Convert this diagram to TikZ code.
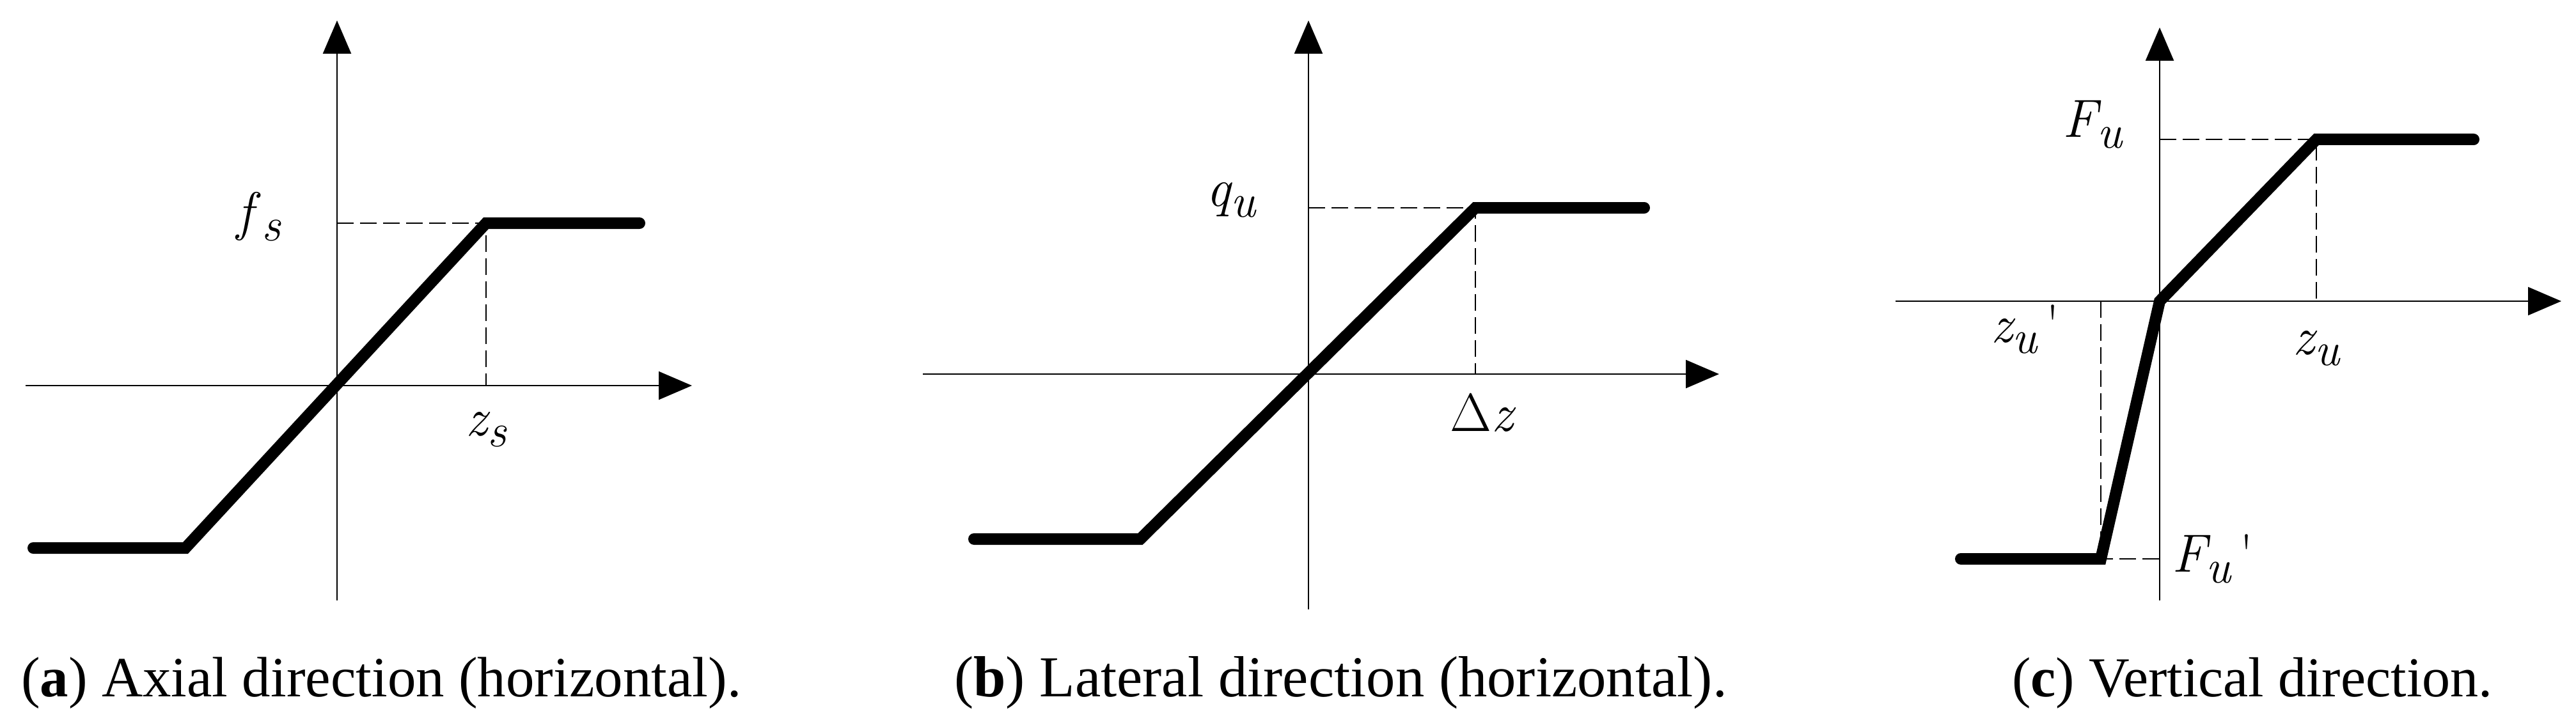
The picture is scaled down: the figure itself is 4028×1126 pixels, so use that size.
\documentclass[tikz,border=0pt]{standalone}
\usepackage{fontspec}
\setmainfont{Liberation Serif}
\newfontfamily\labf{Latin Modern Roman}
\usetikzlibrary{arrows.meta}
\tikzset{
  ax/.style={line width=2.5pt,-{Triangle[length=52pt,width=44pt]}},
  axp/.style={line width=2.5pt},
  curve/.style={line width=18pt,line cap=round,line join=miter},
  dsh/.style={line width=2.2pt,dash pattern=on 26pt off 10pt},
  lab/.style={font=\labf\fontsize{84}{90}\selectfont\itshape,inner sep=0pt},
  captxt/.style={inner sep=0pt,anchor=west}
}
\newcommand{\sbs}[1]{\raisebox{-0.2em}{\fontsize{74}{80}\selectfont #1}}
\begin{document}
\begin{tikzpicture}[x=1pt,y=-1pt]
\useasboundingbox (0,0) rectangle (4028,1126);
% panel a
\coordinate (aO) at (527,603);
\coordinate (aT) at (527,32); \coordinate (aB) at (527,939);
\coordinate (aL) at (40,603); \coordinate (aR) at (1082,603);
\draw[axp] (aB) -- (aO);
\draw[ax] (aO) -- (aT);
\draw[ax] (aL) -- (aR);
\coordinate (a1) at (52,857); \coordinate (a2) at (290,857);
\coordinate (a3) at (760,349); \coordinate (a4) at (1000,349);
\coordinate (ay) at (527,349); \coordinate (ax) at (760,603);
\draw[dsh] (ay) -- (a3) -- (ax);
\draw[curve] (a1) -- (a2) -- (a3) -- (a4);
\node[lab] (fs) at (405,339) {f\,\sbs{s}};
\node[lab] (zs) at (760,672) {z\sbs{s}};
\node[captxt] (capa) at (33,1068) {\resizebox{1125pt}{!}{(\textbf{a}) Axial direction (horizontal).}};
% panel b
\coordinate (bO) at (2046,585);
\coordinate (bT) at (2046,32); \coordinate (bB) at (2046,953);
\coordinate (bL) at (1443,585); \coordinate (bR) at (2688,585);
\draw[axp] (bB) -- (bO);
\draw[ax] (bO) -- (bT);
\draw[ax] (bL) -- (bR);
\coordinate (b1) at (1523,843); \coordinate (b2) at (1783,843);
\coordinate (b3) at (2307,325); \coordinate (b4) at (2571,325);
\coordinate (by) at (2046,325); \coordinate (bx) at (2307,585);
\draw[dsh] (by) -- (b3) -- (bx);
\draw[curve] (b1) -- (b2) -- (b3) -- (b4);
\node[lab] (qu) at (1925,313) {q\sbs{u}};
\node[lab] (dz) at (2317,645) {{\upshape\char"0394}z};
\node[captxt] (capb) at (1492,1068) {\resizebox{1208pt}{!}{(\textbf{b}) Lateral direction (horizontal).}};
% panel c
\coordinate (cO) at (3377,471);
\coordinate (cT) at (3377,43); \coordinate (cB) at (3377,939);
\coordinate (cL) at (2964,471); \coordinate (cR) at (4005,471);
\draw[axp] (cB) -- (cO);
\draw[ax] (cO) -- (cT);
\draw[ax] (cL) -- (cR);
\coordinate (c1) at (3066,874); \coordinate (c2) at (3285,874);
\coordinate (c4) at (3622,218); \coordinate (c5) at (3868,218);
\coordinate (cy) at (3377,218); \coordinate (cx) at (3622,471);
\coordinate (cx2) at (3285,471); \coordinate (cy2) at (3377,874);
\draw[dsh] (cy) -- (c4) -- (cx);
\draw[dsh] (cx2) -- (c2) -- (cy2);
\draw[curve] (c1) -- (c2) -- (cO) -- (c4) -- (c5);
\node[lab] (Fu) at (3272,195) {F\sbs{u}};
\node[lab] (zup) at (3167,515) {z\sbs{u}\,\upshape\textquotesingle};
\node[lab] (zu) at (3622,545) {z\sbs{u}};
\node[lab] (Fup) at (3460,874) {F\sbs{u}\,\upshape\textquotesingle};
\node[captxt] (capc) at (3146,1068) {\resizebox{751pt}{!}{(\textbf{c}) Vertical direction.}};
\end{tikzpicture}
\end{document}
